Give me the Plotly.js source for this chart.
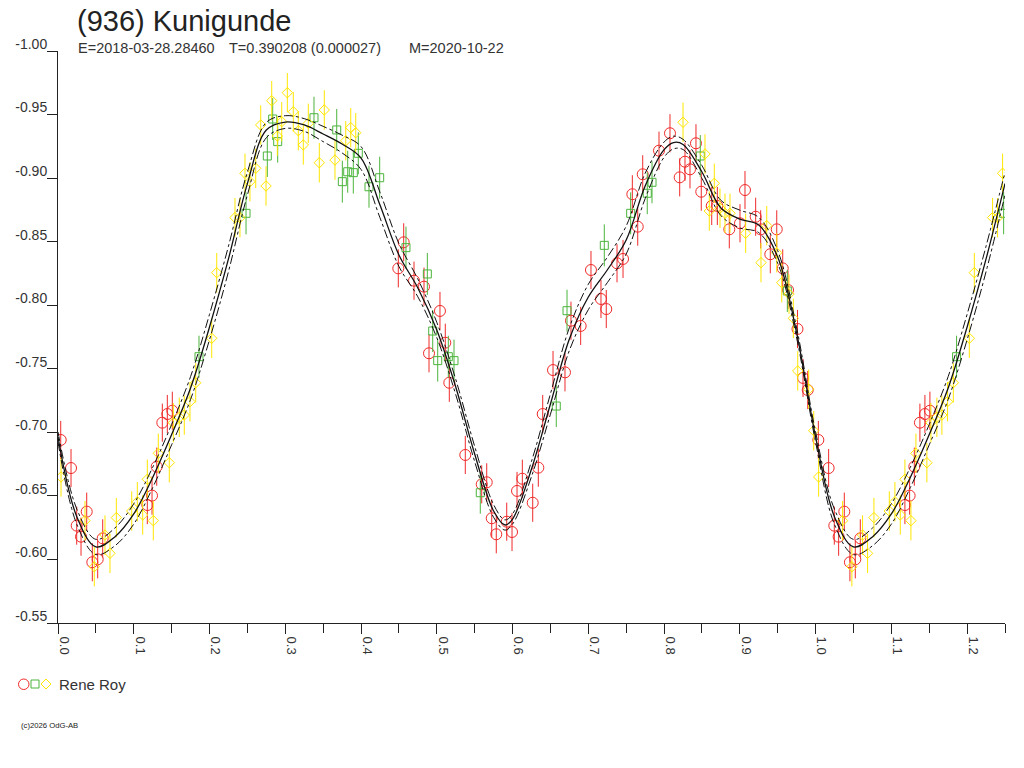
<!DOCTYPE html>
<html>
<head>
<meta charset="utf-8">
<script src="https://cdn.plot.ly/plotly-3.0.1.min.js"></script>
<style>
  html, body { margin: 0; padding: 0; background: #fff; }
  #chart { width: 1024px; height: 768px; }
</style>
</head>
<body>
<div id="chart"></div>
<script>
// Observations (phase, reduced magnitude) per session colour
const redPhase = [0.0036, 0.0172, 0.0247, 0.0379, 0.0304, 0.0453, 0.0524, 0.0590, 0.1179, 0.1241, 0.1303, 0.1377, 0.1443, 0.1509,
    0.4563, 0.4492, 0.4699, 0.4831, 0.5042, 0.4897, 0.5112, 0.5165, 0.5376, 0.5593, 0.5659, 0.5725, 0.5785, 0.5923, 0.5993, 0.6059,
    0.6129, 0.6266, 0.6340, 0.6398, 0.6534, 0.6692, 0.6771, 0.6899, 0.7035, 0.7167, 0.7237, 0.7379, 0.7458, 0.7652,
    0.7581, 0.7718, 0.7933, 0.8078, 0.8206, 0.8276, 0.8342, 0.8421, 0.8491, 0.9068, 0.8629, 0.8703, 0.8861, 0.9002, 0.9209, 0.9275,
    0.9487, 0.9402, 0.9566, 0.9636, 0.9761, 0.9834, 0.9896];
const redMag = [-0.6940, -0.6719, -0.6266, -0.6376, -0.6179, -0.5978, -0.6001, -0.6166, -0.6428, -0.6502, -0.6730, -0.7076, -0.7144, -0.7170,
    -0.8495, -0.8290, -0.8193, -0.8146, -0.7955, -0.7622, -0.7705, -0.7390, -0.6822, -0.6591, -0.6607, -0.6324, -0.6198, -0.6297, -0.6216, -0.6539,
    -0.6635, -0.6446, -0.6722, -0.7144, -0.7490, -0.7472, -0.7878, -0.7837, -0.8277, -0.8049, -0.7970, -0.8330, -0.8364, -0.8618,
    -0.8873, -0.9030, -0.9216, -0.9353, -0.9006, -0.9129, -0.9069, -0.9274, -0.8893, -0.8906, -0.8781, -0.8781, -0.8597, -0.8645, -0.8696, -0.8597,
    -0.8597, -0.8401, -0.8290, -0.8120, -0.7813, -0.7428, -0.7333];

const greenPhase = [0.1861, 0.2482, 0.2763, 0.2834, 0.2900, 0.3379, 0.3679, 0.3753, 0.3824, 0.3898, 0.3964, 0.4105, 0.4246, 0.4593,
    0.4875, 0.4946, 0.5012, 0.5152, 0.5227, 0.5574, 0.6577, 0.6719, 0.7211, 0.7559, 0.7778, 0.7841, 0.8478, 0.9627];
const greenMag = [-0.7595, -0.8723, -0.9174, -0.9465, -0.9287, -0.9475, -0.9379, -0.8972, -0.9050, -0.9043, -0.9195, -0.8932, -0.9003, -0.8453,
    -0.8246, -0.7797, -0.7564, -0.7595, -0.7564, -0.6525, -0.7207, -0.7957, -0.8471, -0.8723, -0.8881, -0.8967, -0.9174, -0.8112];

const yellowPhase = [0.0040, 0.0356, 0.0479, 0.0620, 0.0686, 0.0770, 0.0973, 0.1047, 0.1118, 0.1258, 0.1179, 0.1324, 0.1469, 0.1522,
    0.1601, 0.1667, 0.1742, 0.1818, 0.2029, 0.2095, 0.2336, 0.2402, 0.2468, 0.2534, 0.2610, 0.2746, 0.2676, 0.2821, 0.2895, 0.2953,
    0.3027, 0.3106, 0.3172, 0.3238, 0.3304, 0.3449, 0.3515, 0.3656, 0.3798, 0.3864, 0.3930,
    0.8250, 0.8540, 0.8663, 0.8597, 0.8738, 0.8804, 0.8870, 0.9077, 0.9355, 0.9279, 0.9487, 0.9553, 0.9649, 0.9706, 0.9764, 0.9909, 0.9975];
const yellowMag = [-0.6649, -0.6305, -0.5943, -0.6192, -0.6048, -0.6329, -0.6381, -0.6454, -0.6350, -0.6305, -0.6631, -0.6835, -0.6761, -0.7076,
    -0.7118, -0.7136, -0.7241, -0.7390, -0.7740, -0.8256, -0.8689, -0.8689, -0.9038, -0.8972, -0.9077, -0.8938, -0.9418, -0.9609, -0.9331, -0.9444,
    -0.9672, -0.9522, -0.9373, -0.9261, -0.9431, -0.9121, -0.9536, -0.9142, -0.9294, -0.9397, -0.9357,
    -0.9439, -0.9190, -0.8959, -0.8741, -0.8763, -0.8723, -0.8723, -0.8566, -0.8626, -0.8335, -0.8413, -0.8177, -0.8088, -0.7897, -0.7483, -0.7339, -0.7013];

const redErr = 0.0150;
const greenErr = 0.0165;
const yellowErr = 0.0155;

// Fourier fit and its error envelope
const curvePhase = [0.000, 0.025, 0.050, 0.075, 0.100, 0.125, 0.150, 0.175, 0.200, 0.225, 0.250, 0.275, 0.300, 0.325, 0.350,
    0.375, 0.400, 0.425, 0.450, 0.475, 0.500, 0.525, 0.550, 0.575, 0.590, 0.600, 0.625, 0.650, 0.675, 0.700, 0.725, 0.750,
    0.775, 0.800, 0.8125, 0.825, 0.850, 0.875, 0.900, 0.925, 0.950, 0.975, 1.000];
const curveMid = [-0.6963, -0.6334, -0.6098, -0.6177, -0.6358, -0.6645, -0.6982, -0.7349, -0.7829, -0.8364, -0.8957, -0.9378, -0.9441, -0.9418, -0.9347,
    -0.9268, -0.9158, -0.8788, -0.8395, -0.8136, -0.7805, -0.7357, -0.6830, -0.6381, -0.6271, -0.6318, -0.6712, -0.7223, -0.7734, -0.8065, -0.8277, -0.8513,
    -0.8938, -0.9224, -0.9280, -0.9265, -0.9048, -0.8765, -0.8678, -0.8631, -0.8379, -0.7781, -0.6963];
const curveUpper = [-0.7003, -0.6394, -0.6158, -0.6247, -0.6438, -0.6725, -0.7062, -0.7439, -0.7929, -0.8464, -0.9047, -0.9438, -0.9491, -0.9468, -0.9407,
    -0.9338, -0.9248, -0.8888, -0.8485, -0.8206, -0.7865, -0.7417, -0.6890, -0.6431, -0.6311, -0.6358, -0.6772, -0.7303, -0.7824, -0.8165, -0.8377, -0.8623,
    -0.9038, -0.9284, -0.9330, -0.9305, -0.9098, -0.8825, -0.8748, -0.8691, -0.8429, -0.7821, -0.7003];
const curveLower = [-0.6923, -0.6274, -0.6038, -0.6107, -0.6278, -0.6565, -0.6902, -0.7259, -0.7729, -0.8264, -0.8867, -0.9318, -0.9391, -0.9368, -0.9287,
    -0.9198, -0.9068, -0.8688, -0.8305, -0.8066, -0.7745, -0.7297, -0.6770, -0.6331, -0.6231, -0.6278, -0.6652, -0.7143, -0.7644, -0.7965, -0.8177, -0.8403,
    -0.8838, -0.9164, -0.9230, -0.9225, -0.8998, -0.8705, -0.8608, -0.8571, -0.8329, -0.7741, -0.6923];

const yTickVals = [-1.00, -0.95, -0.90, -0.85, -0.80, -0.75, -0.70, -0.65, -0.60, -0.55];
const yTickText = ['-1.00', '-0.95', '-0.90', '-0.85', '-0.80', '-0.75', '-0.70', '-0.65', '-0.60', '-0.55'];
const xTickVals = [0.0, 0.1, 0.2, 0.3, 0.4, 0.5, 0.6, 0.7, 0.8, 0.9, 1.0, 1.1, 1.2];
const xTickText = ['0.0', '0.1', '0.2', '0.3', '0.4', '0.5', '0.6', '0.7', '0.8', '0.9', '1.0', '1.1', '1.2'];

const RED = '#f02a2a';
const GREEN = '#4cb43c';
const YELLOW = '#ffe600';
const FONT = 'Liberation Sans, Arial, sans-serif';

// phases below 0.25 are drawn a second time after phase 1
function wrapPhase(phase, mag, skipZero) {
    const x = [], y = [];
    phase.forEach((p, i) => { x.push(p); y.push(mag[i]); });
    phase.forEach((p, i) => {
        if (p < 0.25 + 1e-9 && !(skipZero && p === 0)) { x.push(p + 1); y.push(mag[i]); }
    });
    return { x, y };
}

function obsTrace(phase, mag, err, symbol, size, color) {
    const d = wrapPhase(phase, mag, false);
    return {
        x: d.x, y: d.y, type: 'scatter', mode: 'markers', showlegend: false,
        marker: { symbol: symbol, size: size, color: color, line: { color: color, width: 1 } },
        error_y: { type: 'constant', value: err, color: color, thickness: 1, width: 0 }
    };
}

function curveTrace(mag, dash, width) {
    const d = wrapPhase(curvePhase, mag, true);
    return {
        x: d.x, y: d.y, type: 'scatter', mode: 'lines', showlegend: false,
        line: { color: '#111', width: width, dash: dash, shape: 'spline', smoothing: 1 }
    };
}

const traces = [
    obsTrace(redPhase, redMag, redErr, 'circle-open', 11, RED),
    obsTrace(greenPhase, greenMag, greenErr, 'square-open', 8, GREEN),
    obsTrace(yellowPhase, yellowMag, yellowErr, 'diamond-open', 8, YELLOW),
    curveTrace(curveUpper, 'dashdot', 1),
    curveTrace(curveLower, 'dashdot', 1),
    curveTrace(curveMid, 'solid', 1.3)
];

// pixel -> paper helpers for the text placed round the plot
const L = 58, R = 1005, T = 51, B = 623;
const px = x => (x - L) / (R - L);
const py = y => (B - y) / (B - T);

function note(text, x, y, size, color) {
    return {
        text: text, xref: 'paper', yref: 'paper', x: px(x), y: py(y),
        xanchor: 'left', yanchor: 'middle', showarrow: false,
        font: { family: FONT, size: size, color: color }
    };
}

// legend key symbols drawn as small outlines
const keyShapes = [
    { type: 'circle', xref: 'paper', yref: 'paper', x0: px(18.5), x1: px(29), y0: py(689.5), y1: py(679),
      line: { color: RED, width: 1 } },
    { type: 'rect', xref: 'paper', yref: 'paper', x0: px(31), x1: px(39), y0: py(688), y1: py(680),
      line: { color: GREEN, width: 1 } },
    { type: 'path', xref: 'paper', yref: 'paper',
      path: 'M' + px(41) + ',' + py(684) + ' L' + px(46) + ',' + py(679) + ' L' + px(51) + ',' + py(684) +
            ' L' + px(46) + ',' + py(689) + ' Z',
      line: { color: YELLOW, width: 1 } }
];

const layout = {
    width: 1024, height: 768,
    margin: { l: L, r: 1024 - R, t: T, b: 768 - B, pad: 0 },
    paper_bgcolor: '#fff', plot_bgcolor: '#fff',
    font: { family: FONT, color: '#333' },
    xaxis: {
        range: [0, 1.25], showgrid: false, zeroline: false,
        showline: true, linecolor: '#222', linewidth: 1,
        tickmode: 'array', tickvals: xTickVals, ticktext: xTickText,
        ticks: 'outside', ticklen: 10, tickcolor: '#222', tickwidth: 1,
        tickangle: 90, ticklabelshift: 6,
        tickfont: { family: FONT, size: 13, color: '#333' },
        minor: { tickmode: 'linear', tick0: 0, dtick: 0.05, ticks: 'outside', ticklen: 9, tickcolor: '#222', tickwidth: 1 }
    },
    yaxis: {
        range: [-0.55, -1.00], showgrid: false, zeroline: false,
        showline: true, linecolor: '#222', linewidth: 1,
        tickmode: 'array', tickvals: yTickVals, ticktext: yTickText,
        ticks: 'outside', ticklen: 10, tickcolor: '#222', tickwidth: 1,
        ticklabelshift: 7, ticklabelstandoff: -3,
        tickfont: { family: FONT, size: 14, color: '#333' }
    },
    shapes: keyShapes,
    annotations: [
        note('(936) Kunigunde', 75, 21, 29, '#222'),
        note('E=2018-03-28.28460', 76, 48, 14.5, '#333'),
        note('T=0.390208 (0.000027)', 227, 48, 14.5, '#333'),
        note('M=2020-10-22', 407, 48, 14.5, '#333'),
        note('Rene Roy', 57, 684, 15, '#333'),
        note('(c)2026 OdG-AB', 19, 725, 7.7, '#222')
    ]
};

Plotly.newPlot('chart', traces, layout, { displayModeBar: false, staticPlot: true });
</script>
</body>
</html>
